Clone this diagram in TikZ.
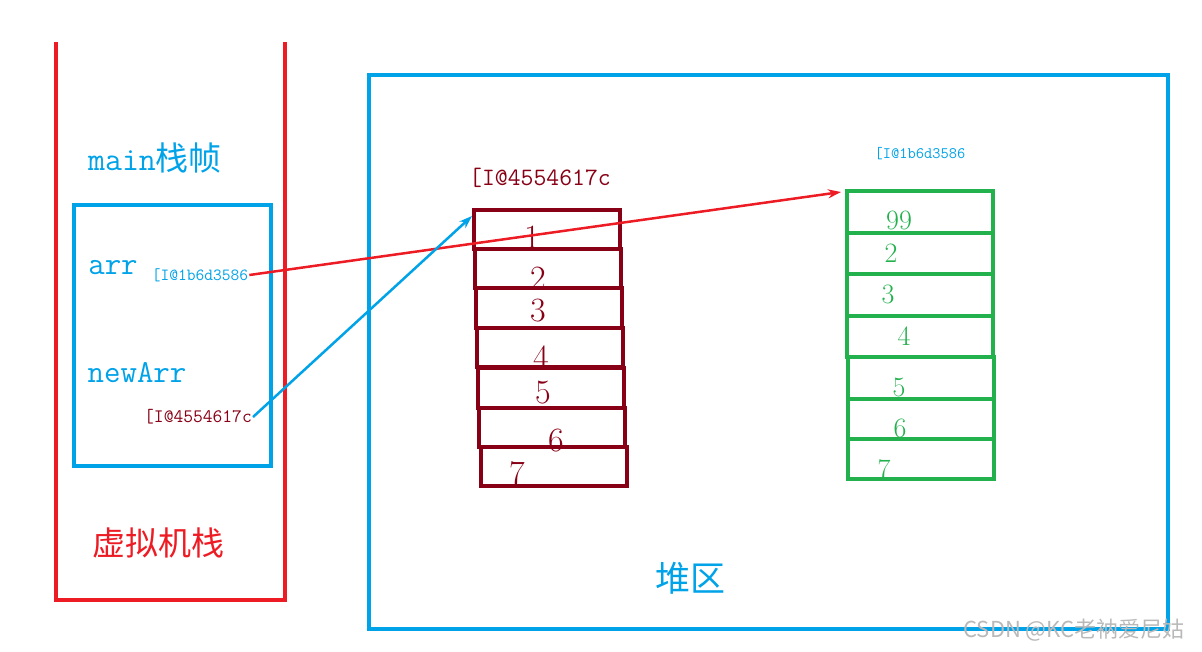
\documentclass[tikz,border=0pt]{standalone}
\usepackage{fontspec}
\newfontfamily\cjk{Noto Sans CJK SC}
\usetikzlibrary{arrows.meta}
\definecolor{stackred}{RGB}{237,28,36}
\definecolor{skyblue}{RGB}{0,162,232}
\definecolor{cellred}{RGB}{136,0,21}
\definecolor{cellgreen}{RGB}{34,177,76}

\begin{document}
\begin{tikzpicture}[x=1pt, y=-1pt,
    frame/.style={line width=4pt},
    cell/.style={line width=4.5pt},
    addr/.style={inner sep=1pt, font=\ttfamily\fontsize{#1}{#1}\selectfont},
    ref/.style={-{Stealth[length=13pt, width=9pt]}, line width=2.5pt}]
  \useasboundingbox (0,0) rectangle (1202,651);
  % stack side
  \draw[stackred, frame] (56,42) -- (56,600) -- (285,600) -- (285,42);
  \node[text=stackred, font=\cjk\fontsize{33}{36}\selectfont] (vm) at (158,543) {虚拟机栈};
  \node[text=skyblue, font=\fontsize{33}{36}\selectfont] (main) at (155,158)
    {{\ttfamily main}{\cjk 栈帧}};
  \draw[skyblue, frame] (74,205) rectangle (271,466);
  \node[text=skyblue, font=\ttfamily\fontsize{32}{36}\selectfont] (arr) at (113,268) {arr};
  \node[text=skyblue, addr=17] (arrRef) at (200,275) {[I@1b6d3586};
  \node[text=skyblue, font=\ttfamily\fontsize{32}{36}\selectfont] (newArr) at (137,373) {newArr};
  \node[text=cellred, addr=19] (newRef) at (198,417) {[I@4554617c};
  % heap
  \draw[skyblue, frame] (369,75) rectangle (1168,629);
  \node[text=skyblue, font=\cjk\fontsize{35}{40}\selectfont] (heap) at (690,578) {堆区};
  \node[text=cellred, addr=25] (redName) at (540,178) {[I@4554617c};
  \node[text=skyblue, addr=16] (greenName) at (920,154) {[I@1b6d3586};
  % new array
  \foreach \n/\x/\ya/\yb/\tx/\ty in {1/474/210/249/532/237, 2/475/249/288/538/278,
      3/476/288/328/538/311, 4/477/328/367/541/357, 5/478/368/408/543/393,
      6/479/408/447/556/441, 7/481/447/486/517/473}{
    \draw[cellred, cell] (\x,\ya) rectangle (\x+146,\yb);
    \node[text=cellred, font=\fontsize{34}{36}\selectfont] (r\n) at (\tx,\ty) {\n};
  }
  % old array
  \foreach \n/\v/\x/\ya/\yb/\tx/\ty in {1/99/847/191/233/899/220, 2/2/847/233/274/891/253,
      3/3/847/274/316/888/294, 4/4/847/316/357/904/336, 5/5/848/357/399/899/387,
      6/6/848/399/439/900/428, 7/7/848/439/479/884/469}{
    \draw[cellgreen, cell] (\x,\ya) rectangle (\x+146,\yb);
    \node[text=cellgreen, font=\fontsize{28}{32}\selectfont] (g\n) at (\tx,\ty) {\v};
  }
  \coordinate (redTop) at (472,216);
  \coordinate (greenTop) at (841,192);
  \draw[stackred, ref] (arrRef.east) -- (greenTop);
  \draw[skyblue, ref] (newRef.east) -- (redTop);
  \node[text=gray!55, font=\cjk\fontsize{22}{24}\selectfont] (mark) at (1074,630) {CSDN @KC老衲爱尼姑};
\end{tikzpicture}
\end{document}
